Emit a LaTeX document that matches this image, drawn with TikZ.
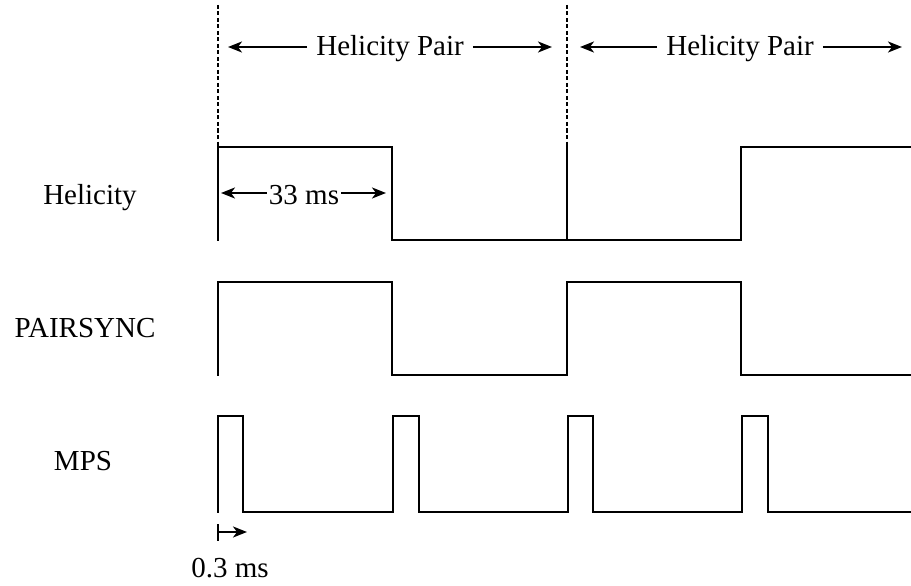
\documentclass[tikz,border=0pt]{standalone}
\usepackage{fontspec}
\setmainfont{Liberation Serif}
\usetikzlibrary{arrows.meta}

\begin{document}
\begin{tikzpicture}[
    x=1pt, y=-1pt,
    font=\fontsize{29}{34}\selectfont,
    signal/.style={line width=2.8pt, line join=miter, line cap=rect},
    pairmark/.style={line width=1.6pt, dash pattern=on 4pt off 2.5pt},
    span/.style={line width=1.9pt, -{Stealth[length=14pt, width=11pt, inset=4pt]}},
    spantext/.style={anchor=base, inner xsep=9pt, inner ysep=0pt},
    siglabel/.style={anchor=base, inner sep=0pt}
  ]
    \useasboundingbox (0,0) rectangle (911,586);

    % Signal names
    \node[siglabel] (helicity) at (90,204) {Helicity};
    \node[siglabel] (pairsync) at (85,337) {PAIRSYNC};
    \node[siglabel] (mps) at (83,470) {MPS};

    % Pair boundaries
    \draw[pairmark] (218,5) -- (218,147);
    \draw[pairmark] (567,5) -- (567,147);

    % Helicity pair spans
    \node[spantext] (pairA) at (390,56) {Helicity Pair};
    \coordinate (pairAl) at (228,47);
    \coordinate (pairAr) at (552,47);
    \draw[span] (pairA.west |- pairAl) -- (pairAl);
    \draw[span] (pairA.east |- pairAr) -- (pairAr);

    \node[spantext] (pairB) at (740,56) {Helicity Pair};
    \coordinate (pairBl) at (580,47);
    \coordinate (pairBr) at (902,47);
    \draw[span] (pairB.west |- pairBl) -- (pairBl);
    \draw[span] (pairB.east |- pairBr) -- (pairBr);

    % Helicity
    \draw[signal] (218,240) -- (218,147) -- (392,147) -- (392,240) -- (567,240)
      -- (741,240) -- (741,147) -- (911,147);
    \draw[signal] (567,147) -- (567,240);

    \node[spantext, inner xsep=2pt] (window) at (304,204) {33 ms};
    \coordinate (windowl) at (221,193);
    \coordinate (windowr) at (386,193);
    \draw[span] (window.west |- windowl) -- (windowl);
    \draw[span] (window.east |- windowr) -- (windowr);

    % PAIRSYNC
    \draw[signal] (218,375) -- (218,282) -- (392,282) -- (392,375) -- (567,375)
      -- (567,282) -- (741,282) -- (741,375) -- (911,375);

    % MPS
    \draw[signal] (218,512) -- (218,416) -- (243,416) -- (243,512) -- (393,512)
      -- (393,416) -- (419,416) -- (419,512) -- (568,512)
      -- (568,416) -- (593,416) -- (593,512) -- (742,512)
      -- (742,416) -- (768,416) -- (768,512) -- (911,512);

    % Gate width
    \node[siglabel] (gate) at (230,577) {0.3 ms};
    \coordinate (gatel) at (218,532);
    \coordinate (gater) at (247,532);
    \draw[line width=1.9pt] (218,524) -- (218,541);
    \draw[span] (gatel) -- (gater);
\end{tikzpicture}
\end{document}
